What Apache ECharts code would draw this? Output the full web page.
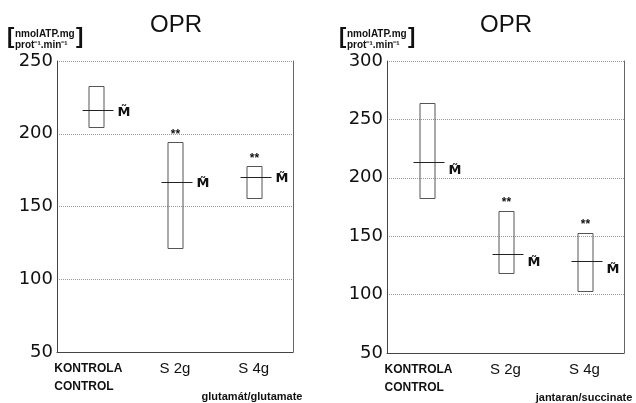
<!DOCTYPE html>
<html>
<head>
<meta charset="utf-8">
<script src="https://cdn.jsdelivr.net/npm/echarts@6/dist/echarts.min.js"></script>
<style>
  html, body { margin: 0; padding: 0; background: #fff; }
  #chart { width: 636px; height: 403px; }
</style>
</head>
<body>
<div id="chart"></div>
<script>
const categories = ['KONTROLA\nCONTROL', 'S 2g', 'S 4g'];
const significance = ['', '**', '**'];

// glutamate panel
const gluLow = [205, 121, 155.5];
const gluHigh = [233, 194, 177.5];
const gluMedian = [216, 167, 170.5];

// succinate panel
const sucLow = [182.5, 119, 103];
const sucHigh = [264, 172, 153];
const sucMedian = [213.5, 135, 129];

const chart = echarts.init(document.getElementById('chart'), null, { renderer: 'canvas' });

function boxData(low, high, median) {
  return low.map((v, i) => [i, v, high[i], median[i]]);
}

function makeRender(mOffset) {
  return function (params, api) {
    const idx = api.value(0);
    const top = api.coord([idx, api.value(2)]);
    const bot = api.coord([idx, api.value(1)]);
    const med = api.coord([idx, api.value(3)]);
    const cx = Math.round(top[0]) + 0.5;
    const children = [
      {
        type: 'rect',
        shape: { x: cx - 7.5, y: Math.round(top[1]) + 0.5, width: 15, height: Math.round(bot[1] - top[1]) },
        style: { fill: 'none', stroke: '#555', lineWidth: 1 }
      },
      {
        type: 'line',
        shape: { x1: cx - 14, y1: Math.round(med[1]) + 0.5, x2: cx + 17, y2: Math.round(med[1]) + 0.5 },
        style: { stroke: '#222', lineWidth: 1 }
      },
      {
        type: 'text',
        style: {
          x: cx + 21, y: med[1] + mOffset, text: 'M\u0303',
          font: 'bold 13px "DejaVu Sans"', fill: '#111',
          align: 'left', verticalAlign: 'middle'
        }
      }
    ];
    const star = significance[idx];
    if (star) {
      children.push({
        type: 'text',
        style: {
          x: cx, y: top[1] - 2, text: star,
          font: 'bold 12px "Liberation Sans"', fill: '#111',
          align: 'center', verticalAlign: 'bottom'
        }
      });
    }
    return { type: 'group', children: children };
  };
}

function xAxisFor(gridIndex) {
  return {
    type: 'category',
    gridIndex: gridIndex,
    data: categories,
    axisLine: { lineStyle: { color: '#444', width: 1 } },
    axisTick: { inside: true, length: 4, alignWithLabel: true, lineStyle: { color: '#555' } },
    axisLabel: {
      margin: 8,
      interval: 0,
      formatter: function (value, i) {
        if (i === 0) {
          return value.split('\n').map(s => '{k|' + s + '}').join('\n');
        }
        return '{s|' + value + '}';
      },
      rich: {
        k: { fontFamily: 'Liberation Sans', fontWeight: 'bold', fontSize: 12, color: '#111',
             width: 84, align: 'left', lineHeight: 18 },
        s: { fontFamily: 'Liberation Sans', fontSize: 15, color: '#111', lineHeight: 18 }
      }
    }
  };
}

function yAxisFor(gridIndex, max) {
  return {
    type: 'value',
    gridIndex: gridIndex,
    min: 50,
    max: max,
    interval: 50,
    axisLine: { show: true, lineStyle: { color: '#444', width: 1 } },
    axisTick: { show: false },
    axisLabel: { margin: 4, fontFamily: 'DejaVu Sans', fontSize: 18, color: '#111' },
    splitLine: { show: true, lineStyle: { color: '#999', type: 'dotted', width: 1 } }
  };
}

function rightFrame(gridIndex) {
  return {
    type: 'value',
    gridIndex: gridIndex,
    position: 'right',
    min: 0,
    max: 1,
    axisLine: { show: true, lineStyle: { color: '#666', width: 1 } },
    axisTick: { show: false },
    axisLabel: { show: false },
    splitLine: { show: false }
  };
}

function unitLabel(x) {
  return [
    { type: 'text', left: x - 8, top: 26, style: { text: '[', font: 'bold 22px "Liberation Sans"', fill: '#111' } },
    { type: 'text', left: x, top: 29, style: { text: 'nmolATP.mg', font: 'bold 10px "Liberation Sans"', fill: '#111' } },
    { type: 'text', left: x, top: 40, style: { text: 'prot\u207B\u00B9.min\u207B\u00B9', font: 'bold 10px "Liberation Sans"', fill: '#111' } },
    { type: 'text', left: x + 61, top: 26, style: { text: ']', font: 'bold 22px "Liberation Sans"', fill: '#111' } }
  ];
}

const option = {
  animation: false,
  backgroundColor: '#fff',
  textStyle: { fontFamily: 'Liberation Sans' },
  grid: [
    { left: 57, right: 343, top: 61, bottom: 51 },
    { left: 387, right: 12, top: 61, bottom: 50 }
  ],
  xAxis: [xAxisFor(0), xAxisFor(1)],
  yAxis: [yAxisFor(0, 250), yAxisFor(1, 300), rightFrame(0), rightFrame(1)],
  graphic: [
    { type: 'text', x: 176, y: 25, style: { text: 'OPR', font: '24px "Liberation Sans"', fill: '#111', align: 'center', verticalAlign: 'middle' } },
    { type: 'text', x: 506, y: 25, style: { text: 'OPR', font: '24px "Liberation Sans"', fill: '#111', align: 'center', verticalAlign: 'middle' } },
    { type: 'text', x: 252, y: 397, style: { text: 'glutamát/glutamate', font: 'bold 11px "Liberation Sans"', fill: '#111', align: 'center', verticalAlign: 'middle' } },
    { type: 'text', x: 584, y: 398, style: { text: 'jantaran/succinate', font: 'bold 11px "Liberation Sans"', fill: '#111', align: 'center', verticalAlign: 'middle' } }
  ].concat(unitLabel(15), unitLabel(347)),
  series: [
    {
      type: 'custom',
      name: 'glutamate',
      xAxisIndex: 0,
      yAxisIndex: 0,
      renderItem: makeRender(2),
      encode: { x: 0, y: [1, 2, 3] },
      data: boxData(gluLow, gluHigh, gluMedian)
    },
    {
      type: 'custom',
      name: 'succinate',
      xAxisIndex: 1,
      yAxisIndex: 1,
      renderItem: makeRender(9),
      encode: { x: 0, y: [1, 2, 3] },
      data: boxData(sucLow, sucHigh, sucMedian)
    }
  ]
};

chart.setOption(option);
window.addEventListener('resize', function () {
  chart.resize();
});
</script>
</body>
</html>
